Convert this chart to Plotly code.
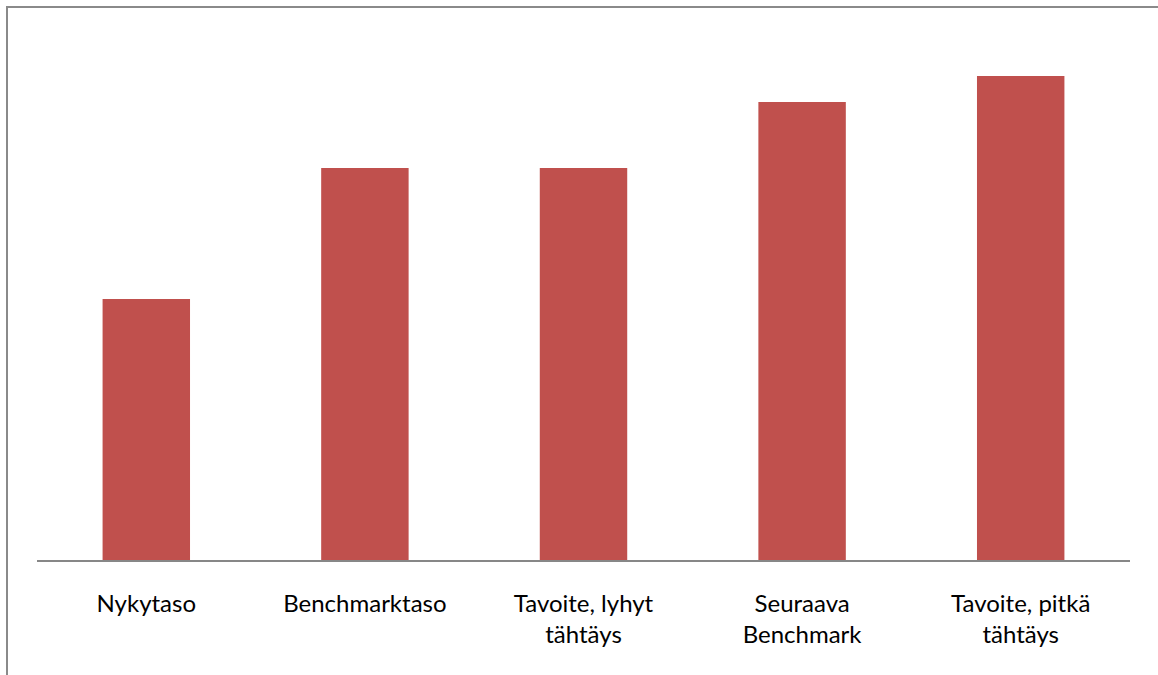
import plotly.graph_objects as go

categories = ["Nykytaso", "Benchmarktaso", "Tavoite, lyhyt<br>tähtäys", "Seuraava<br>Benchmark", "Tavoite, pitkä<br>tähtäys"]
values = [2.61, 3.92, 3.92, 4.58, 4.84]

W, H = 1158, 675
L, R, T, B = 37, 28, 28, 115
pw, ph = W - L - R, H - T - B

def px(x):
    return (x - L) / pw

def py(y):
    return (H - B - y) / ph

fig = go.Figure(go.Bar(x=categories, y=values, marker=dict(color="#C0504D", line=dict(width=0)), width=0.4))

fig.update_layout(
    width=W, height=H,
    margin=dict(l=L, r=R, t=T, b=B),
    paper_bgcolor="white", plot_bgcolor="white",
    showlegend=False,
    font=dict(family="Lato, Open Sans, sans-serif", size=24, color="#000000"),
    bargap=0.6,
)
fig.update_xaxes(showline=True, linecolor="#878787", linewidth=2, ticks="", showgrid=False,
                 ticklabelstandoff=21, tickfont=dict(size=24))
fig.update_yaxes(range=[0, 5.32], visible=False, showgrid=False)

fig.add_shape(type="rect", xref="paper", yref="paper",
              x0=px(7), x1=px(1175), y0=py(7), y1=py(700),
              line=dict(color="#8a8a8a", width=2), fillcolor="rgba(0,0,0,0)", layer="below")

fig.write_html("out.html")
